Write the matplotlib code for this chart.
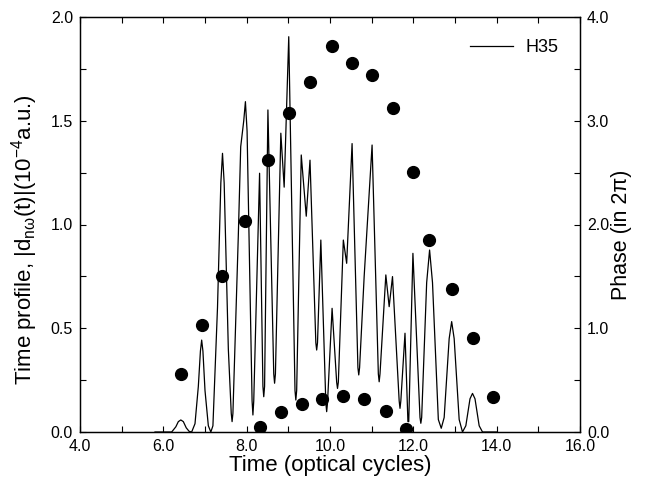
import matplotlib
matplotlib.use("Agg")
import matplotlib.pyplot as plt
from matplotlib.ticker import MultipleLocator, FormatStrFormatter
from matplotlib.lines import Line2D

plt.rcParams['font.family'] = ['Liberation Sans', 'DejaVu Sans']
plt.rcParams['mathtext.fontset'] = 'custom'
plt.rcParams['mathtext.rm'] = 'Liberation Sans'
plt.rcParams['mathtext.it'] = 'Liberation Sans:italic'

# Time profile of H35 (time in optical cycles, |d(t)| in 1e-4 a.u.)
profile_t = [5.80, 6.20, 6.30, 6.36, 6.42, 6.48, 6.55, 6.62, 6.68, 6.76,
             6.84, 6.89, 6.92, 6.95, 7.00, 7.08, 7.14, 7.19, 7.30, 7.38,
             7.42, 7.46, 7.56, 7.63, 7.65, 7.67, 7.80, 7.857, 7.93, 7.97,
             8.01, 8.13, 8.15, 8.17, 8.31, 8.39, 8.41, 8.43, 8.51, 8.65,
             8.67, 8.69, 8.82, 8.90, 9.01, 9.16, 9.18, 9.20, 9.31, 9.43,
             9.52, 9.66, 9.68, 9.70, 9.78, 9.90, 9.92, 9.94, 10.05, 10.16,
             10.18, 10.20, 10.32, 10.40, 10.53, 10.67, 10.69, 10.71, 10.82, 11.01,
             11.16, 11.18, 11.20, 11.34, 11.42, 11.50, 11.66, 11.68, 11.70, 11.80,
             11.87, 11.89, 11.99, 12.16, 12.18, 12.20, 12.32, 12.39, 12.46, 12.60,
             12.67, 12.74, 12.86, 12.92, 12.98, 13.10, 13.18, 13.26, 13.36, 13.42,
             13.48, 13.58, 13.66, 14.00]
profile_y = [0.0, 0.0, 0.025, 0.05, 0.058, 0.05, 0.02, 0.003, 0.0, 0.04,
             0.22, 0.39, 0.443, 0.39, 0.20, 0.03, 0.0, 0.03, 0.60, 1.20,
             1.343, 1.20, 0.40, 0.09, 0.05, 0.09, 0.95, 1.375, 1.50, 1.592,
             1.45, 0.15, 0.082, 0.15, 1.247, 0.22, 0.17, 0.22, 1.552, 0.28,
             0.235, 0.28, 1.44, 1.18, 1.905, 0.20, 0.154, 0.20, 1.335, 1.04,
             1.31, 0.43, 0.395, 0.43, 0.925, 0.14, 0.098, 0.14, 0.596, 0.24,
             0.21, 0.24, 0.925, 0.813, 1.39, 0.31, 0.275, 0.31, 0.75, 1.383,
             0.28, 0.242, 0.28, 0.757, 0.604, 0.749, 0.15, 0.114, 0.15, 0.476,
             0.05, 0.05, 0.861, 0.07, 0.042, 0.07, 0.72, 0.877, 0.72, 0.06,
             0.018, 0.07, 0.45, 0.532, 0.45, 0.06, 0.0, 0.03, 0.16, 0.186,
             0.16, 0.03, 0.0, 0.0]

# Phase (in 2 pi), upper branch and lower branch
phase_t = [6.42, 6.92, 7.42, 7.96, 8.50, 9.01, 9.53, 10.05, 10.52, 11.01,
           11.52, 12.00, 12.38, 12.92, 13.42, 13.92,
           8.32, 8.82, 9.32, 9.81, 10.32, 10.82, 11.34, 11.82]
phase_v = [0.56, 1.03, 1.50, 2.03, 2.62, 3.07, 3.37, 3.72, 3.56, 3.44,
           3.12, 2.51, 1.85, 1.38, 0.91, 0.34,
           0.05, 0.19, 0.27, 0.32, 0.35, 0.32, 0.20, 0.03]

W, H = 647, 482
fig = plt.figure(figsize=(W / 100, H / 100), dpi=100)
ax = fig.add_axes([80 / W, (H - 432) / H, 500 / W, 415 / H])
ax.plot(profile_t, profile_y, color='black', lw=0.9, label='H35')
ax.set_xlim(4, 16)
ax.set_ylim(0, 2)
ax.xaxis.set_major_locator(MultipleLocator(2))
ax.xaxis.set_minor_locator(MultipleLocator(1))
ax.yaxis.set_major_locator(MultipleLocator(0.5))
ax.yaxis.set_minor_locator(MultipleLocator(0.25))
ax.xaxis.set_major_formatter(FormatStrFormatter('%.1f'))
ax.yaxis.set_major_formatter(FormatStrFormatter('%.1f'))
ax.tick_params(which='both', direction='in', top=True, right=False, length=4, width=0.8,
               labelsize=11.5, pad=5)
ax.set_xlabel('Time (optical cycles)', fontsize=16, labelpad=1)
ax.set_ylabel(r'Time profile, |d$_{\mathrm{nω}}$(t)|(10$^{-4}$a.u.)', fontsize=16)
ax.yaxis.set_label_coords(-0.08, 0.463)

ax2 = ax.twinx()
ax2.plot(phase_t, phase_v, 'o', color='black', markersize=8.5, linestyle='none')
ax2.set_ylim(0, 4)
ax2.yaxis.set_major_locator(MultipleLocator(1))
ax2.yaxis.set_minor_locator(MultipleLocator(0.5))
ax2.yaxis.set_major_formatter(FormatStrFormatter('%.1f'))
ax2.tick_params(which='both', direction='in', length=4, width=0.8, labelsize=11.5, pad=5)
ax2.set_ylabel('Phase (in 2\u03c0)', fontsize=15.5)
ax2.yaxis.set_label_coords(1.062, 0.475)

for a in (ax, ax2):
    for s in a.spines.values():
        s.set_linewidth(0.9)

ax.legend(handles=[Line2D([], [], color='black', lw=0.9)], labels=['H35'],
          loc='upper right', frameon=False, fontsize=13, handlelength=2.4,
          handletextpad=0.7, bbox_to_anchor=(0.99, 0.985))

fig.savefig('out.png', dpi=100)
